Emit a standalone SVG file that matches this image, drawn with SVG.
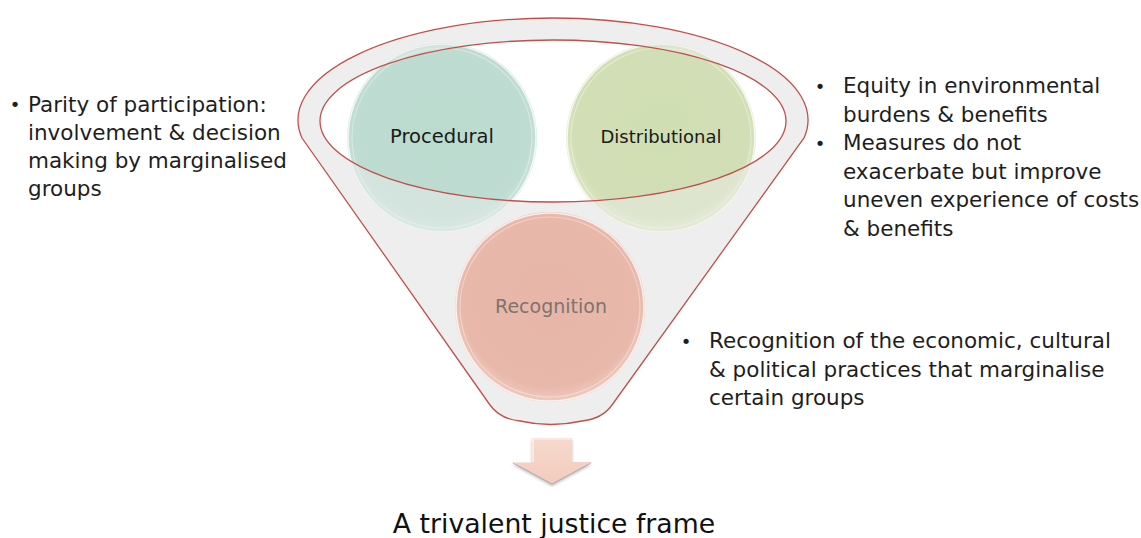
<svg xmlns="http://www.w3.org/2000/svg" width="1141" height="538" viewBox="0 0 1141 538">
<style>
.txt{font-family:"DejaVu Sans","Liberation Sans",sans-serif;font-size:21.5px;fill:#1e1e1e}
.bul{font-family:"DejaVu Sans","Liberation Sans",sans-serif;font-size:18px;fill:#1e1e1e;text-anchor:middle}
.lbl{font-family:"DejaVu Sans","Liberation Sans",sans-serif;text-anchor:middle}
.rim{fill:none;stroke:#ffffff;stroke-opacity:0.75;stroke-width:1.6}
.rim2{fill:none;stroke:#ffffff;stroke-opacity:0.35;stroke-width:1.2}
.red{fill:none;stroke:#c0504d;stroke-width:1.3}
</style>
<defs>
<radialGradient id="gP" cx="50%" cy="45%" r="55%">
<stop offset="0" stop-color="#bcdbcf"/><stop offset="0.85" stop-color="#bedcd1"/><stop offset="1" stop-color="#cfe5dd"/>
</radialGradient>
<radialGradient id="gD" cx="50%" cy="45%" r="55%">
<stop offset="0" stop-color="#d0deb3"/><stop offset="0.85" stop-color="#d2dfb6"/><stop offset="1" stop-color="#e0e8c8"/>
</radialGradient>
<radialGradient id="gR" cx="50%" cy="45%" r="55%">
<stop offset="0" stop-color="#e7b6a8"/><stop offset="0.85" stop-color="#e8b8aa"/><stop offset="1" stop-color="#efcabf"/>
</radialGradient>
<linearGradient id="gA" x1="0" y1="0" x2="0" y2="1">
<stop offset="0" stop-color="#f7d9cd"/><stop offset="1" stop-color="#f2cbbd"/>
</linearGradient>
<filter id="sh" x="-30%" y="-30%" width="160%" height="160%">
<feGaussianBlur stdDeviation="1.5"/>
</filter>
</defs>
<rect width="1141" height="538" fill="#ffffff"/>

<g id="funnel">
<path fill="#efefef" fill-rule="evenodd" d="M302,138 A255,102 0 1 1 804,138 L612,405 Q602,419 582,421 Q551,428 520,421 Q500,419 490,405 Z M320,121 A233,81 0 1 0 786,121 A233,81 0 1 0 320,121 Z"/>
</g>

<g id="node-procedural">
<circle cx="442" cy="138" r="95" fill="url(#gP)"/>
<circle cx="442" cy="138" r="94" class="rim"/>
<circle cx="442" cy="138" r="90" class="rim2"/>
</g>
<g id="node-distributional">
<circle cx="661" cy="138" r="95" fill="url(#gD)"/>
<circle cx="661" cy="138" r="94" class="rim"/>
<circle cx="661" cy="138" r="90" class="rim2"/>
</g>

<g id="funnel-overlay">
<path fill="#eeeeee" fill-opacity="0.45" fill-rule="evenodd" d="M302,138 A255,102 0 1 1 804,138 L612,405 Q602,419 582,421 Q551,428 520,421 Q500,419 490,405 Z M320,121 A233,81 0 1 0 786,121 A233,81 0 1 0 320,121 Z"/>
</g>

<g id="node-recognition">
<circle cx="550" cy="307" r="95" fill="url(#gR)"/>
<circle cx="550" cy="307" r="94" class="rim"/>
<circle cx="550" cy="307" r="90" class="rim2"/>
</g>

<g id="funnel-outline">
<path class="red" d="M302,138 A255,102 0 1 1 804,138 L612,405 Q602,419 582,421 Q551,428 520,421 Q500,419 490,405 Z"/>
<ellipse class="red" cx="553" cy="121" rx="233" ry="81"/>
</g>

<g id="labels">
<text class="lbl" x="442" y="143" font-size="19.5" fill="#1a1a1a">Procedural</text>
<text class="lbl" x="661" y="143" font-size="18" fill="#1a1a1a">Distributional</text>
<text class="lbl" x="551" y="313" font-size="19" fill="#7d7470">Recognition</text>
</g>

<g id="connectors">
<polygon points="532,440 572,440 572,464 592,464 552,486 512,464 532,464" fill="#8a8a8a" fill-opacity="0.6" filter="url(#sh)"/>
<polygon points="532,438 572,438 572,462 592,462 552,484 512,462 532,462" fill="url(#gA)"/>
<polyline points="533,462 533,439 571,439" fill="none" stroke="#ffffff" stroke-opacity="0.8" stroke-width="1.2"/>
<polyline points="514,462 531,462" fill="none" stroke="#ffffff" stroke-opacity="0.8" stroke-width="1.2"/>
<polyline points="591,463 552,484 513,463" fill="none" stroke="#9a9a9a" stroke-opacity="0.6" stroke-width="1"/>
</g>

<g id="text-procedural">
<text class="bul" x="15" y="111">•</text>
<text class="txt" x="28" y="111.5">Parity of participation:</text>
<text class="txt" x="28" y="139.5">involvement &amp; decision</text>
<text class="txt" x="28" y="167.5">making by marginalised</text>
<text class="txt" x="28" y="195.5">groups</text>
</g>

<g id="text-distributional">
<text class="bul" x="820" y="92.5">•</text>
<text class="txt" x="843" y="93">Equity in environmental</text>
<text class="txt" x="843" y="121.5">burdens &amp; benefits</text>
<text class="bul" x="820" y="149.5">•</text>
<text class="txt" x="843" y="150">Measures do not</text>
<text class="txt" x="843" y="178.5">exacerbate but improve</text>
<text class="txt" x="843" y="207">uneven experience of costs</text>
<text class="txt" x="843" y="235.5">&amp; benefits</text>
</g>

<g id="text-recognition">
<text class="bul" x="686" y="347.5">•</text>
<text class="txt" x="709" y="348">Recognition of the economic, cultural</text>
<text class="txt" x="709" y="376.5">&amp; political practices that marginalise</text>
<text class="txt" x="709" y="405">certain groups</text>
</g>

<g id="title">
<text class="lbl" x="554" y="533" font-size="26.7" fill="#111111">A trivalent justice frame</text>
</g>
</svg>
